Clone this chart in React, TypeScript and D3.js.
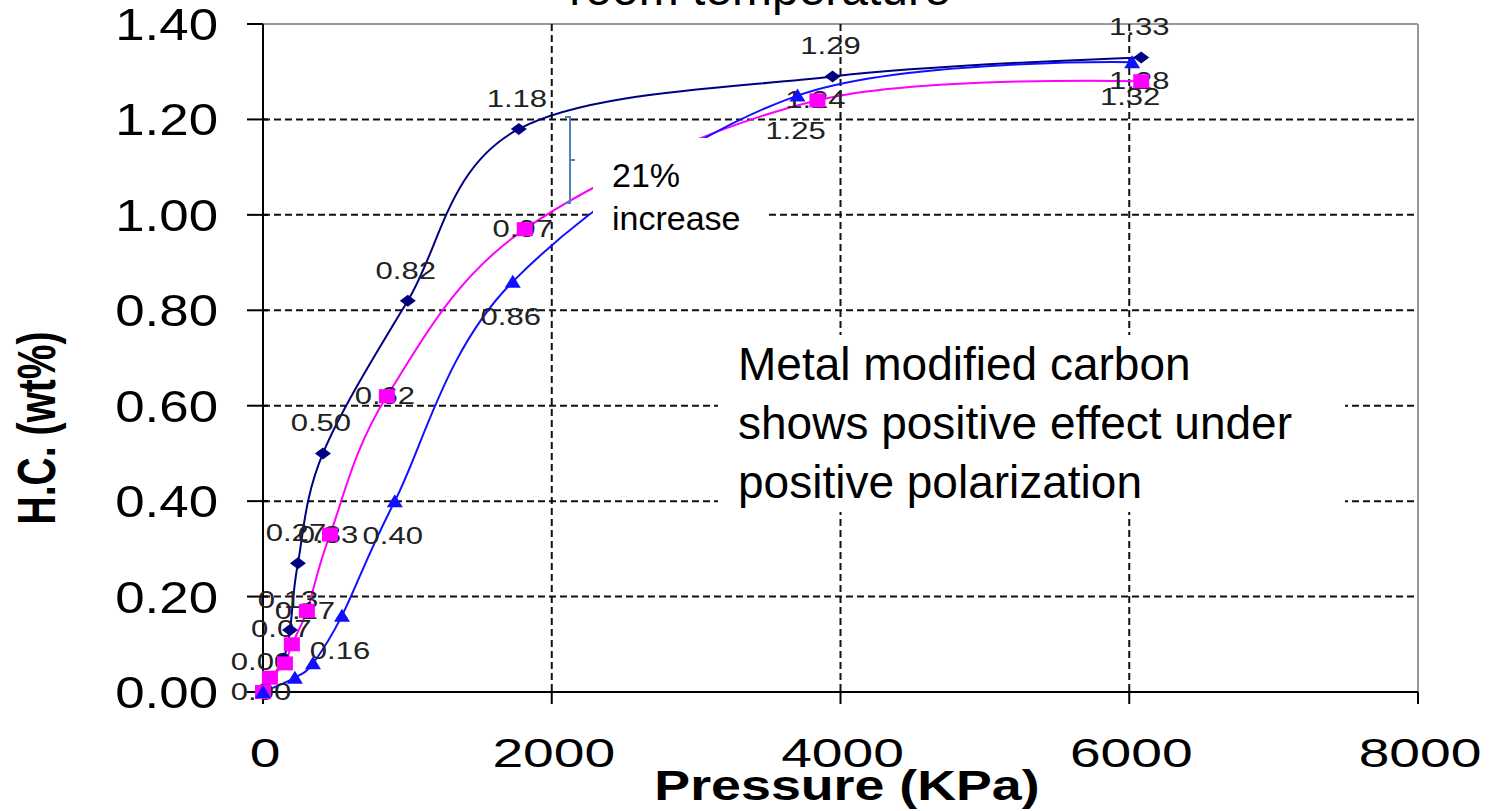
import React from "react";
import * as d3 from "d3";

// ---- data ----
const xTicks = [0, 2000, 4000, 6000, 8000];
const yTicks = [0, 0.2, 0.4, 0.6, 0.8, 1.0, 1.2, 1.4];

const pressureNavy = [0, 140, 187, 242, 415, 1003, 1772, 3945, 6083];
const hcNavy = [0, 0.07, 0.13, 0.27, 0.5, 0.82, 1.18, 1.29, 1.33];
const labelNavy = [true, true, true, true, true, true, true, true, true];

const pressurePink = [0, 48, 152, 200, 304, 464, 858, 1813, 3840, 6083];
const hcPink = [0, 0.03, 0.06, 0.1, 0.17, 0.33, 0.62, 0.97, 1.24, 1.28];
const labelPink = [true, false, false, false, true, true, true, true, true, true];

const pressureBlue = [0, 221, 346, 547, 913, 1730, 3702, 6020];
const hcBlue = [0, 0.03, 0.06, 0.16, 0.4, 0.86, 1.25, 1.32];
const labelBlue = [false, false, false, true, true, true, true, true];

const titleText = "room temperature";
const xTitle = "Pressure (KPa)";
const yTitle = "H.C. (wt%)";
const noteA = ["21%", "increase"];
const noteB = ["Metal modified carbon", "shows positive effect under", "positive polarization"];

const FONT = "'Liberation Sans', Arial, sans-serif";

function SText({ x, y, sx = 1, size, anchor = "middle", weight = "normal", fill = "#000", rotate = 0, children }: any) {
  return (
    <text
      transform={`translate(${x},${y}) scale(${sx},1)${rotate ? ` rotate(${rotate})` : ""}`}
      fontFamily={FONT}
      fontSize={size}
      fontWeight={weight}
      textAnchor={anchor}
      fill={fill}
    >
      {children}
    </text>
  );
}

export default function App() {
  const W = 1491, H = 811;
  const x = d3.scaleLinear().domain([0, 8000]).range([263, 1418]);
  const y = d3.scaleLinear().domain([0, 1.4]).range([692, 24]);
  const line = d3
    .line<[number, number]>()
    .x((d) => x(d[0]))
    .y((d) => y(d[1]))
    .curve(d3.curveCardinal.tension(0));

  const series = [
    { p: pressureNavy, v: hcNavy, show: labelNavy, color: "#000080", marker: "diamond", pos: "above" },
    { p: pressurePink, v: hcPink, show: labelPink, color: "#FF00FF", marker: "square", pos: "center" },
    { p: pressureBlue, v: hcBlue, show: labelBlue, color: "#1010FF", marker: "triangle", pos: "below" },
  ];

  const marker = (type: string, cx: number, cy: number, color: string, key: string) => {
    if (type === "diamond")
      return <path key={key} d={`M${cx - 8},${cy} L${cx},${cy - 6} L${cx + 8},${cy} L${cx},${cy + 6} Z`} fill={color} />;
    if (type === "square")
      return <rect key={key} x={cx - 8} y={cy - 7} width={16} height={14} fill={color} />;
    return <path key={key} d={`M${cx - 8},${cy + 6} L${cx},${cy - 7} L${cx + 8},${cy + 6} Z`} fill={color} />;
  };

  const x0 = x(0), x1 = x(8000), y0 = y(0), y1 = y(1.4);

  return (
    <svg width={W} height={H} style={{ position: "absolute", left: 0, top: 0, background: "#fff" }}>
      <rect x={0} y={0} width={W} height={H} fill="#fff" />
      {/* title (cut off at top) */}
      <SText x={760} y={5} size={48}>{titleText}</SText>

      {/* frame */}
      <line x1={x0} x2={x1} y1={y1} y2={y1} stroke="#999" strokeWidth={2} />
      <line x1={x1} x2={x1} y1={y1} y2={y0} stroke="#999" strokeWidth={2} />

      {/* gridlines */}
      {yTicks.filter((t) => t > 0 && t < 1.4).map((t) => (
        <line key={"gy" + t} x1={x0} x2={x1} y1={y(t)} y2={y(t)} stroke="#111" strokeWidth={2} strokeDasharray="7,4" />
      ))}
      {xTicks.filter((t) => t > 0 && t < 8000).map((t) => (
        <line key={"gx" + t} x1={x(t)} x2={x(t)} y1={y1} y2={y0} stroke="#111" strokeWidth={2} strokeDasharray="7,4" />
      ))}

      {/* axes */}
      <line x1={x0} x2={x0} y1={y1} y2={y0} stroke="#000" strokeWidth={2} />
      <line x1={x0} x2={x1} y1={y0} y2={y0} stroke="#000" strokeWidth={2} />
      {yTicks.map((t) => (
        <g key={"yt" + t}>
          <line x1={247} x2={t === 1.4 ? x0 : 268} y1={y(t)} y2={y(t)} stroke="#000" strokeWidth={2} />
          <SText x={218} y={y(t) + 16} size={44} sx={1.2} anchor="end">{t.toFixed(2)}</SText>
        </g>
      ))}
      {xTicks.map((t) => (
        <g key={"xt" + t}>
          <line x1={x(t)} x2={x(t)} y1={y0} y2={y0 + 12} stroke="#000" strokeWidth={2} />
          <SText x={x(t) + 2} y={767} size={40} sx={1.38}>{String(t)}</SText>
        </g>
      ))}

      {/* axis titles */}
      <SText x={847} y={800} size={42} sx={1.28} weight="bold">{xTitle}</SText>
      <SText x={55} y={428} size={39} sx={1.4} weight="bold" rotate={-90}>{yTitle}</SText>

      {/* series lines */}
      {series.map((s, i) => (
        <path
          key={"l" + i}
          d={line(s.p.map((p, j) => [p, s.v[j]] as [number, number])) || ""}
          fill="none"
          stroke={s.color}
          strokeWidth={2}
        />
      ))}
      {/* labels */}
      {series.map((s, i) =>
        s.p.map((p, j) => {
          if (!s.show[j]) return null;
          const px = x(p), py = y(s.v[j]);
          const by = s.pos === "above" ? py - 22 : s.pos === "below" ? py + 43 : py + 8;
          return (
            <SText key={`lb${i}-${j}`} x={px - 2} y={by} size={23} sx={1.35} fill="#222">
              {s.v[j].toFixed(2)}
            </SText>
          );
        })
      )}
      {/* markers */}
      {series.map((s, i) => s.p.map((p, j) => marker(s.marker, x(p), y(s.v[j]), s.color, `m${i}-${j}`)))}

      {/* annotation boxes */}
      <rect x={593} y={138} width={175} height={107} fill="#fff" />
      <SText x={612} y={187} size={34} anchor="start">{noteA[0]}</SText>
      <SText x={612} y={230} size={34} anchor="start">{noteA[1]}</SText>
      <path d="M565,117 L570,117 L570,203 L565,203 M570,160 L575,160" fill="none" stroke="#4F81BD" strokeWidth={2} />

      <rect x={718} y={335} width={627} height={177} fill="#fff" />
      {noteB.map((t, i) => (
        <SText key={"nb" + i} x={738} y={380 + i * 59} size={46} anchor="start">{t}</SText>
      ))}
    </svg>
  );
}
